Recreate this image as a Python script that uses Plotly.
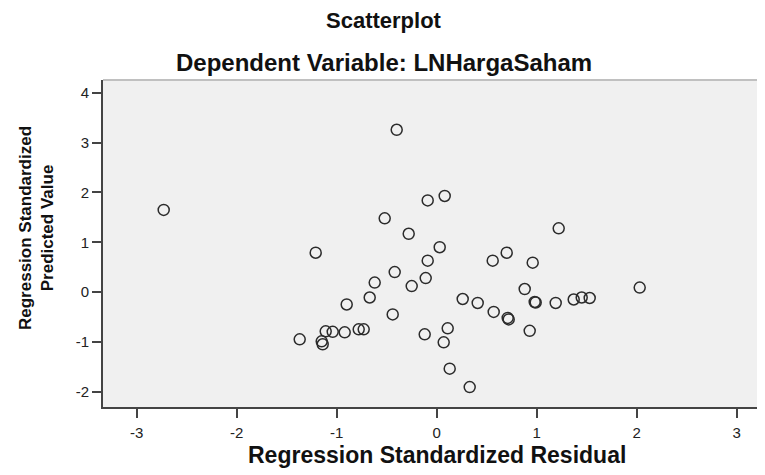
import plotly.graph_objects as go

# Regression standardized residual (x) vs standardized predicted value (y)
x_resid = [-2.73, -0.40, -0.09, 0.08, -0.52, -0.28, 1.22, -1.21, -1.37, -1.15,
           -1.14, -1.11, -1.04, 0.03, -0.09, -0.42, -0.62, -0.11, -0.25, -0.67,
           -0.90, -0.44, -0.92, -0.78, -0.73, -0.12, 0.11, 0.07, 0.13, 0.33,
           0.26, 0.41, 0.57, 0.56, 0.70, 0.96, 0.88, 0.98, 0.99, 0.71,
           0.72, 0.93, 1.19, 1.37, 1.45, 1.53, 2.03]
y_pred = [1.65, 3.26, 1.84, 1.93, 1.48, 1.17, 1.28, 0.79, -0.95, -0.99,
          -1.05, -0.79, -0.80, 0.90, 0.63, 0.40, 0.19, 0.28, 0.12, -0.11,
          -0.25, -0.45, -0.81, -0.75, -0.75, -0.85, -0.73, -1.01, -1.54, -1.91,
          -0.14, -0.22, -0.40, 0.63, 0.79, 0.59, 0.06, -0.20, -0.21, -0.52,
          -0.55, -0.78, -0.22, -0.15, -0.11, -0.12, 0.09]

x_ticks = [-3, -2, -1, 0, 1, 2, 3]
x_tick_labels = ["-3", "-2", "-1", "0", "1", "2", "3"]
y_ticks = [-2, -1, 0, 1, 2, 3, 4]
y_tick_labels = ["-2", "-1", "0", "1", "2", "3", "4"]

title = "Scatterplot"
subtitle = "Dependent Variable: LNHargaSaham"
x_title = "Regression Standardized Residual"
y_title = "Regression Standardized<br>Predicted Value"

FONT = "Liberation Sans, Arial, sans-serif"

# page body has an 8px margin, so the figure is sized/offset to compensate
fig = go.Figure()
fig.add_trace(go.Scatter(
    x=x_resid, y=y_pred, mode="markers",
    marker=dict(symbol="circle-open", size=11, color="#2b2b2b",
                line=dict(width=1.5, color="#2b2b2b")),
    hoverinfo="x+y", showlegend=False,
))

fig.update_layout(
    width=757, height=467,
    margin=dict(l=95, r=0, t=72, b=68),
    paper_bgcolor="white",
    plot_bgcolor="#f0f0f0",
    font=dict(family=FONT, size=13, color="#222222"),
    xaxis=dict(range=[-3.337, 3.283], tickvals=x_ticks, ticktext=x_tick_labels,
               ticks="outside", ticklen=9, tickwidth=2, tickcolor="#444444",
               ticklabelstandoff=2,
               showline=True, linecolor="#444444", linewidth=2,
               showgrid=False, zeroline=False,
               tickfont=dict(size=15, family=FONT, color="#222222")),
    yaxis=dict(range=[-2.31, 4.26], tickvals=y_ticks, ticktext=y_tick_labels,
               ticks="outside", ticklen=9, tickwidth=2, tickcolor="#444444",
               showline=True, linecolor="#444444", linewidth=2,
               showgrid=False, zeroline=False,
               tickfont=dict(size=15, family=FONT, color="#222222")),
    shapes=[dict(type="line", xref="x domain", yref="y domain",
                 x0=0, x1=1, y0=1, y1=1,
                 line=dict(color="#c0c0c0", width=2), layer="below")],
    annotations=[
        dict(text="<b>" + title + "</b>", xref="paper", yref="paper",
             x=0.425, y=(407 - 20) / 327, xanchor="center", yanchor="middle",
             showarrow=False, font=dict(size=22, family=FONT, color="#111111")),
        dict(text="<b>" + subtitle + "</b>", xref="paper", yref="paper",
             x=0.425, y=(407 - 62) / 327, xanchor="center", yanchor="middle",
             showarrow=False, font=dict(size=24, family=FONT, color="#111111")),
        dict(text="<b>" + x_title + "</b>", xref="paper", yref="paper",
             x=(437 - 103) / 662, y=(407 - 455) / 327, xanchor="center", yanchor="middle",
             showarrow=False, font=dict(size=23, family=FONT, color="#111111")),
        dict(text="<b>" + y_title + "</b>", xref="paper", yref="paper",
             x=(36 - 103) / 662, y=(407 - 228) / 327, xanchor="center", yanchor="middle",
             textangle=-90, showarrow=False,
             font=dict(size=17, family=FONT, color="#111111")),
    ],
)

fig.write_html("out.html")
